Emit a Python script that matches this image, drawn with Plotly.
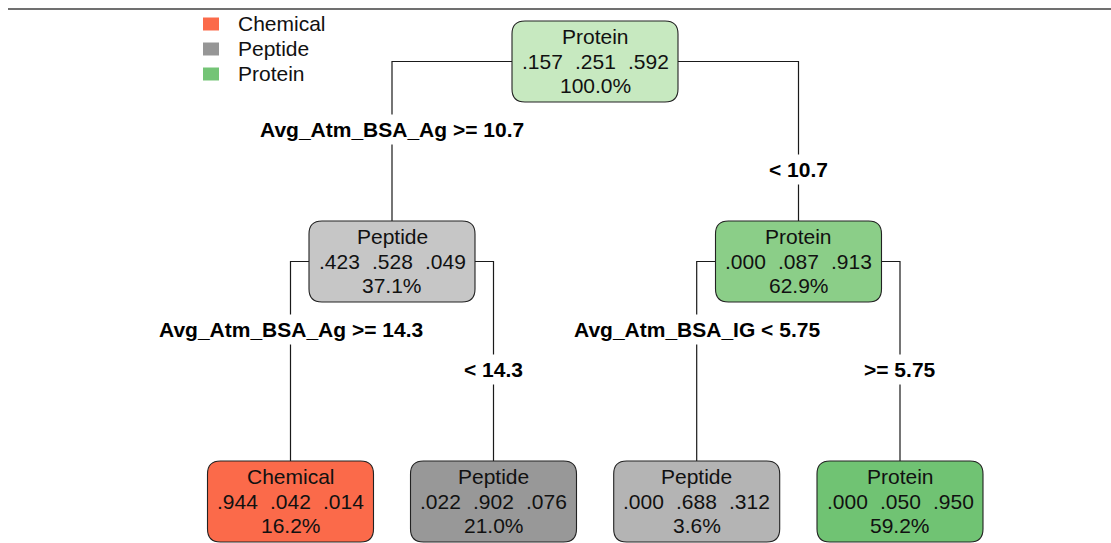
import plotly.graph_objects as go

# ---- tree data -------------------------------------------------------------
classes = ["Chemical", "Peptide", "Protein"]

# nodes in order: root, left child, right child, then the four leaves
node_class = ["Protein", "Peptide", "Protein", "Chemical", "Peptide", "Peptide", "Protein"]
prob_chemical = [0.157, 0.423, 0.000, 0.944, 0.022, 0.000, 0.000]
prob_peptide = [0.251, 0.528, 0.087, 0.042, 0.902, 0.688, 0.050]
prob_protein = [0.592, 0.049, 0.913, 0.014, 0.076, 0.312, 0.950]
node_pct = [100.0, 37.1, 62.9, 16.2, 21.0, 3.6, 59.2]

# parent index -> (left child, right child, left split label, right split label)
splits = [
    (0, 1, 2, "Avg_Atm_BSA_Ag >= 10.7", "< 10.7"),
    (1, 3, 4, "Avg_Atm_BSA_Ag >= 14.3", "< 14.3"),
    (2, 5, 6, "Avg_Atm_BSA_IG < 5.75", ">= 5.75"),
]

# ---- layout / styling --------------------------------------------------------
W, H = 1111, 543
FONT = "Liberation Sans, Arial, Helvetica, sans-serif"
FS = 21

node_cx = [595, 392, 798.5, 290.5, 493.5, 696.7, 900]
node_top = [21, 221, 221, 461, 461, 461, 461]
BOX_W, BOX_H, RAD = 166, 81, 13

node_fill = ["#C7E9C0", "#C6C6C6", "#8BCE88", "#FB6A4A", "#989898", "#B4B4B4", "#70C373"]
legend_colors = {"Chemical": "#FB6A4A", "Peptide": "#969696", "Protein": "#74C476"}
LINE = "#1a1a1a"


def rounded_box(cx, top, w, h, r):
    x0, x1 = cx - w / 2, cx + w / 2
    y0, y1 = top, top + h
    return (f"M {x0 + r},{y0} L {x1 - r},{y0} Q {x1},{y0} {x1},{y0 + r} "
            f"L {x1},{y1 - r} Q {x1},{y1} {x1 - r},{y1} "
            f"L {x0 + r},{y1} Q {x0},{y1} {x0},{y1 - r} "
            f"L {x0},{y0 + r} Q {x0},{y0} {x0 + r},{y0} Z")


def fmt(p):
    return f"{p:.3f}"[1:]


shapes = []
annotations = []

# thin rule across the top
shapes.append(dict(type="line", x0=8, x1=W, y0=9, y1=9,
                   line=dict(color="#707070", width=2.2), layer="below"))

# connectors and split labels
for parent, lc, rc, ltxt, rtxt in splits:
    ymid = node_top[parent] + BOX_H / 2
    pl = node_cx[parent] - BOX_W / 2
    pr = node_cx[parent] + BOX_W / 2
    for child, edge in ((lc, pl), (rc, pr)):
        shapes.append(dict(type="path",
                           path=f"M {edge},{ymid} L {node_cx[child]},{ymid} L {node_cx[child]},{node_top[child]}",
                           line=dict(color=LINE, width=1.2), layer="below"))
    bottom = node_top[parent] + BOX_H
    annotations.append(dict(x=node_cx[lc], y=bottom + 27.5, text=f"<b>{ltxt}</b>",
                            showarrow=False, bgcolor="white", borderpad=3,
                            font=dict(family=FONT, size=FS, color="black"),
                            xanchor="center", yanchor="middle"))
    annotations.append(dict(x=node_cx[rc], y=bottom + 67, text=f"<b>{rtxt}</b>",
                            showarrow=False, bgcolor="white", borderpad=3,
                            font=dict(family=FONT, size=FS, color="black"),
                            xanchor="center", yanchor="middle"))

# node boxes and their text
GROUP_DX = 53
for i in range(len(node_class)):
    shapes.append(dict(type="path", path=rounded_box(node_cx[i], node_top[i], BOX_W, BOX_H, RAD),
                       fillcolor=node_fill[i], line=dict(color="#222222", width=1.1), layer="above"))
    t = node_top[i]
    lines = [(node_class[i], node_cx[i], t + 15.5),
             (fmt(prob_chemical[i]), node_cx[i] - GROUP_DX, t + 40),
             (fmt(prob_peptide[i]), node_cx[i], t + 40),
             (fmt(prob_protein[i]), node_cx[i] + GROUP_DX, t + 40),
             (f"{node_pct[i]:.1f}%", node_cx[i], t + 64.5)]
    for txt, x, y in lines:
        annotations.append(dict(x=x, y=y, text=txt, showarrow=False,
                                font=dict(family=FONT, size=FS, color="#111111"),
                                xanchor="center", yanchor="middle"))

# legend
for k, c in enumerate(classes):
    yc = 24 + 25 * k
    shapes.append(dict(type="rect", x0=203, x1=219, y0=yc - 6.5, y1=yc + 6.5,
                       fillcolor=legend_colors[c], line=dict(width=0)))
    annotations.append(dict(x=236, y=yc - 0.5, text=c, showarrow=False,
                            font=dict(family=FONT, size=FS, color="#111111"),
                            xanchor="left", yanchor="middle"))

fig = go.Figure()
fig.update_layout(
    width=W, height=H,
    margin=dict(l=0, r=0, t=0, b=0),
    paper_bgcolor="white", plot_bgcolor="white",
    xaxis=dict(range=[0, W], visible=False, fixedrange=True),
    yaxis=dict(range=[H, 0], visible=False, fixedrange=True),
    shapes=shapes, annotations=annotations,
    showlegend=False,
)
fig.write_html("out.html")
